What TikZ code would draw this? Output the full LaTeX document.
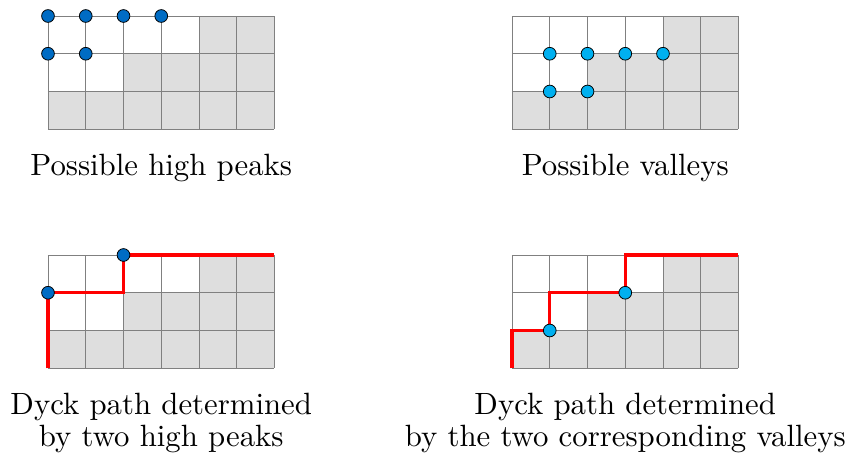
\documentclass[tikz,border=0pt]{standalone}
\usepackage{fontspec}
\newfontfamily\capfont{lmroman10-regular.otf}
\begin{document}
\begin{tikzpicture}[x=1cm,y=-1cm,
  cellfill/.style={fill=shadegray,draw=none},
  gridline/.style={draw=linegray,line width=0.7pt},
  redpath/.style={draw=red,line width=2.4pt,line cap=butt,line join=miter},
  peakdot/.style={circle,fill=peakblue,draw=black,line width=0.6pt,inner sep=0pt,minimum size=9.6pt},
  valleydot/.style={circle,fill=valleyblue,draw=black,line width=0.6pt,inner sep=0pt,minimum size=9.6pt},
  caption/.style={anchor=base,inner sep=0pt,font=\capfont\fontsize{23.2}{24.5}\selectfont}]
\definecolor{shadegray}{RGB}{222,222,222}
\definecolor{linegray}{RGB}{128,128,128}
\definecolor{peakblue}{RGB}{0,108,196}
\definecolor{valleyblue}{RGB}{0,176,240}
\path[use as bounding box] (0,0) rectangle (22.517,12.079);
% four grids
\foreach \gx/\gy/\gname in {1.2715/0.4238/A,13.563/0.4238/B,1.2715/6.755/C,13.563/6.755/D}{
  \begin{scope}[shift={(\gx,\gy)}]
    \fill[cellfill] (4,0) rectangle (6,1);
    \fill[cellfill] (2,1) rectangle (6,2);
    \fill[cellfill] (0,2) rectangle (6,3);
    \foreach \i in {0,...,6} \draw[gridline] (\i,0) -- (\i,3);
    \foreach \j in {0,...,3} \draw[gridline] (0,\j) -- (6,\j);
  \end{scope}
}
% top-left: possible high peaks
\begin{scope}[shift={(1.2715,0.4238)}]
  \node[peakdot] (a1) at (0,0) {};
  \node[peakdot] (a2) at (1,0) {};
  \node[peakdot] (a3) at (2,0) {};
  \node[peakdot] (a4) at (3,0) {};
  \node[peakdot] (a5) at (0,1) {};
  \node[peakdot] (a6) at (1,1) {};
\end{scope}
% top-right: possible valleys
\begin{scope}[shift={(13.563,0.4238)}]
  \node[valleydot] (b1) at (1,1) {};
  \node[valleydot] (b2) at (2,1) {};
  \node[valleydot] (b3) at (3,1) {};
  \node[valleydot] (b4) at (4,1) {};
  \node[valleydot] (b5) at (1,2) {};
  \node[valleydot] (b6) at (2,2) {};
\end{scope}
% bottom-left: Dyck path by two high peaks
\begin{scope}[shift={(1.2715,6.755)}]
  \coordinate (c0) at (0,3);
  \coordinate (c2) at (2,1);
  \coordinate (c4) at (6,0);
  \coordinate (c1p) at (0,1);
  \coordinate (c3p) at (2,0);
  \draw[redpath] (c0) -- (c1p) -- (c2) -- (c3p) -- (c4);
  \node[peakdot] (c1) at (c1p) {};
  \node[peakdot] (c3) at (c3p) {};
\end{scope}
% bottom-right: Dyck path by two valleys
\begin{scope}[shift={(13.563,6.755)}]
  \coordinate (d0) at (0,3);
  \coordinate (d1) at (0,2);
  \coordinate (d2p) at (1,2);
  \coordinate (d3) at (1,1);
  \coordinate (d4p) at (3,1);
  \coordinate (d5) at (3,0);
  \coordinate (d6) at (6,0);
  \draw[redpath] (d0) -- (d1) -- (d2p) -- (d3) -- (d4p) -- (d5) -- (d6);
  \node[valleydot] (d2) at (d2p) {};
  \node[valleydot] (d4) at (d4p) {};
\end{scope}
% captions
\node[caption] (t1) at (4.2715,4.662) {Possible high peaks};
\node[caption] (t2) at (16.563,4.662) {Possible valleys};
\node[caption] (t3) at (4.2715,10.967) {Dyck path determined};
\node[caption] (t4) at (4.2715,11.83) {by two high peaks};
\node[caption] (t5) at (16.563,10.967) {Dyck path determined};
\node[caption] (t6) at (16.563,11.83) {by the two corresponding valleys};
\end{tikzpicture}
\end{document}
